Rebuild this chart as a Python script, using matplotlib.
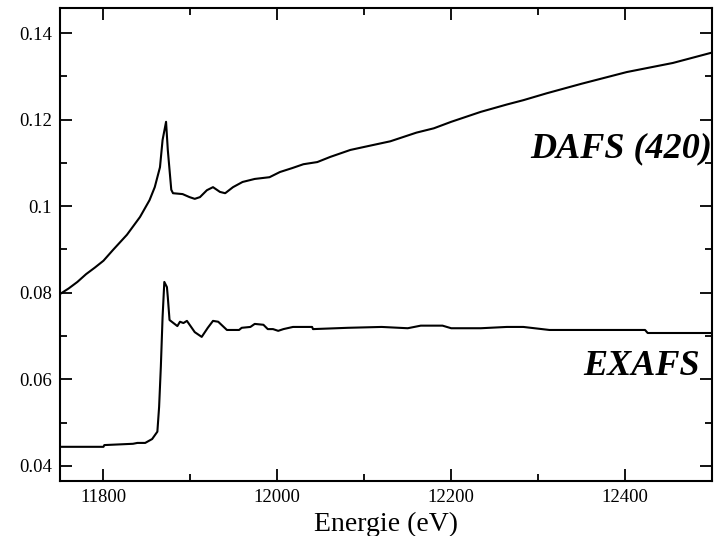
import matplotlib
matplotlib.use("Agg")
import matplotlib.pyplot as plt
from matplotlib.ticker import MultipleLocator, FuncFormatter

plt.rcParams['font.family'] = ['Liberation Serif', 'DejaVu Serif']

# DAFS (420) spectrum: energy (eV), intensity
dafs_e = [11750, 11760, 11770, 11780, 11790, 11800, 11811, 11827, 11842, 11853,
          11859, 11865, 11868, 11872, 11874, 11876, 11878, 11880, 11891, 11899,
          11905, 11911, 11919, 11926, 11934, 11940, 11949, 11960, 11974, 11991,
          12003, 12017, 12030, 12046, 12061, 12084, 12100, 12130, 12160, 12180,
          12200, 12234, 12264, 12283, 12310, 12350, 12402, 12455, 12500]
dafs_y = [0.0797, 0.0810, 0.0825, 0.0843, 0.0858, 0.0874, 0.0899, 0.0934, 0.0975, 0.1014,
          0.1044, 0.1090, 0.1153, 0.1195, 0.1130, 0.1084, 0.1038, 0.1030, 0.1028, 0.1021,
          0.1017, 0.1021, 0.1037, 0.1044, 0.1033, 0.1030, 0.1044, 0.1056, 0.1063, 0.1067,
          0.1079, 0.1088, 0.1097, 0.1102, 0.1114, 0.1130, 0.1137, 0.1150, 0.1170, 0.1180,
          0.1195, 0.1218, 0.1235, 0.1245, 0.1261, 0.1283, 0.1310, 0.1331, 0.1355]

# EXAFS spectrum
exafs_e = [11750, 11800, 11801, 11834, 11839, 11848, 11856, 11862, 11864, 11866,
           11868, 11870, 11873, 11874, 11876, 11885, 11888, 11892, 11896, 11905,
           11913, 11920, 11926, 11932, 11942, 11956, 11959, 11969, 11974, 11984,
           11989, 11995, 12001, 12007, 12018, 12040, 12041, 12081, 12120, 12150,
           12165, 12190, 12200, 12234, 12264, 12283, 12313, 12423, 12426, 12500]
exafs_y = [0.0444, 0.0444, 0.0448, 0.0451, 0.0453, 0.0453, 0.0462, 0.0479, 0.0536, 0.0629,
           0.0744, 0.0825, 0.0813, 0.0790, 0.0737, 0.0723, 0.0733, 0.0730, 0.0735, 0.0709,
           0.0698, 0.0719, 0.0735, 0.0733, 0.0714, 0.0714, 0.0719, 0.0721, 0.0728, 0.0726,
           0.0716, 0.0716, 0.0712, 0.0716, 0.0721, 0.0721, 0.0716, 0.0719, 0.0721, 0.0718,
           0.0724, 0.0724, 0.0718, 0.0718, 0.0721, 0.0721, 0.0714, 0.0714, 0.0707, 0.0707]

fig = plt.figure(figsize=(7.18, 5.36), dpi=100)
ax = fig.add_axes([60/718, 1 - 481/536, 652/718, 473/536])

ax.plot(dafs_e, dafs_y, color='black', lw=1.5)
ax.plot(exafs_e, exafs_y, color='black', lw=1.5)

ax.set_xlim(11750, 12500)
ax.set_ylim(0.0365, 0.1458)

ax.xaxis.set_major_locator(MultipleLocator(200))
ax.xaxis.set_minor_locator(MultipleLocator(100))
ax.yaxis.set_major_locator(MultipleLocator(0.02))
ax.yaxis.set_minor_locator(MultipleLocator(0.01))
ax.xaxis.set_major_formatter(FuncFormatter(lambda v, p: '%d' % v))
ax.yaxis.set_major_formatter(FuncFormatter(lambda v, p: '%g' % round(v, 3)))

ax.tick_params(which='both', direction='in', top=True, right=True, width=1.3)
ax.tick_params(which='major', length=8.5, labelsize=13.5, pad=6)
ax.tick_params(which='minor', length=5)
for s in ax.spines.values():
    s.set_linewidth(1.5)

ax.set_xlabel('Energie (eV)', fontsize=20, labelpad=4)

ax.text(12500, 0.1114, 'DAFS (420)', ha='right', va='baseline',
        fontsize=26, fontweight='bold', fontstyle='italic')
ax.text(12486, 0.0610, 'EXAFS', ha='right', va='baseline',
        fontsize=26, fontweight='bold', fontstyle='italic')

fig.savefig('out.png', dpi=100)
